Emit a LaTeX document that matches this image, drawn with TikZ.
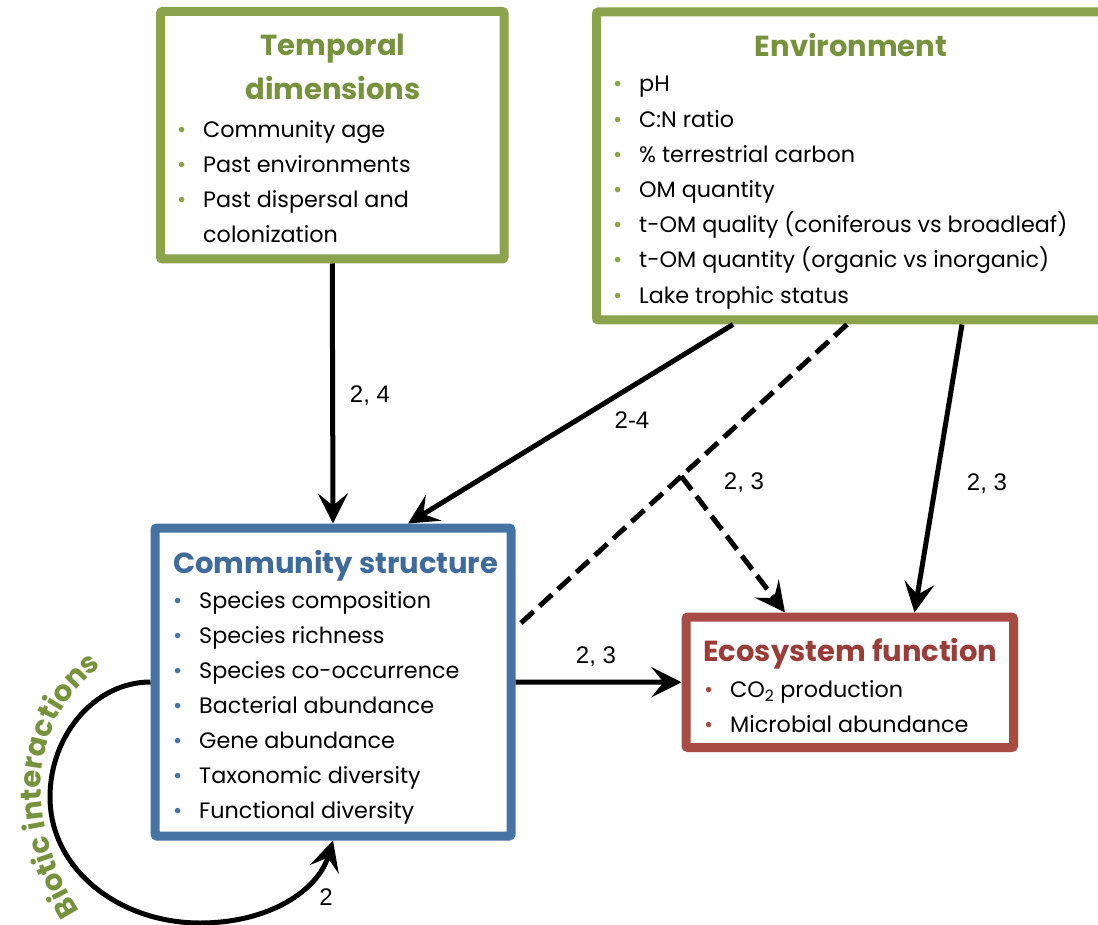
\documentclass[tikz,border=0pt]{standalone}
\usepackage{fontspec}
\setmainfont{Poppins}
\newfontfamily\labelfont{Liberation Sans}
\usetikzlibrary{arrows.meta,decorations.text}

\definecolor{envgreen}{HTML}{8AA34C}
\definecolor{envgreendark}{HTML}{76923C}
\definecolor{commblue}{HTML}{4672A4}
\definecolor{commbluedark}{HTML}{3F6A9C}
\definecolor{ecored}{HTML}{A84B45}
\definecolor{ecoreddark}{HTML}{9A3D38}

\newcommand{\bulletline}[2]{\makebox[26pt][l]{\textcolor{#1}{\textbullet}}#2}

\tikzset{
  box/.style={draw, line width=9pt, rounded corners=2pt, fill=white, inner sep=0pt},
  title/.style={inner sep=0pt, font=\fontsize{29}{34}\selectfont\bfseries},
  item/.style={anchor=base west, inner sep=0pt, font=\fontsize{22.3}{26}\selectfont},
  lbl/.style={inner sep=0pt, font=\fontsize{24}{28}\selectfont\labelfont},
  arr/.style={line width=5pt, -{Stealth[length=30pt,width=30pt,inset=12pt]}},
  dashedline/.style={line width=5pt, dash pattern=on 17pt off 8pt},
}

\begin{document}
\begin{tikzpicture}[x=1pt,y=-1pt]
    \useasboundingbox (0,0) rectangle (1098,925);
    \clip (0,0) rectangle (1098,925);

    % boxes
    \node[box, draw=envgreen, minimum width=343.5pt, minimum height=247.5pt] (temporal) at (332.25,135.25) {};
    \node[box, draw=envgreen, minimum width=520pt, minimum height=308pt] (env) at (856.5,166) {};
    \node[box, draw=commblue, minimum width=356pt, minimum height=308pt] (community) at (333,682) {};
    \node[box, draw=ecored, minimum width=327.5pt, minimum height=130.5pt] (ecosys) at (849.75,682.25) {};

    % temporal dimensions
    \node[title, anchor=base, text=envgreendark] (temporaltitle1) at (333,56) {Temporal};
    \node[title, anchor=base, text=envgreendark] (temporaltitle2) at (333,100) {dimensions};
    \node[item] (temporal-1) at (177,138) {\bulletline{envgreen}{Community age}};
    \node[item] (temporal-2) at (177,173) {\bulletline{envgreen}{Past environments}};
    \node[item] (temporal-3) at (177,208) {\bulletline{envgreen}{Past dispersal and}};
    \node[item] (temporal-4) at (203,243) {colonization};

    % environment
    \node[title, anchor=base, text=envgreendark] (envtitle) at (851,57) {Environment};
    \foreach \txt [count=\i] in {pH, C:N ratio, \% terrestrial carbon, OM quantity,
        t-OM quality (coniferous vs broadleaf), t-OM quantity (organic vs inorganic),
        Lake trophic status}
        \node[item] (env-\i) at (613,{92+35.2*(\i-1)}) {\bulletline{envgreen}{\txt}};

    % community structure
    \node[title, anchor=base west, text=commbluedark] (commtitle) at (173,573) {Community structure};
    \foreach \txt [count=\i] in {Species composition, Species richness, Species co-occurrence,
        Bacterial abundance, Gene abundance, Taxonomic diversity, Functional diversity}
        \node[item] (comm-\i) at (173,{608+35*(\i-1)}) {\bulletline{commblue}{\txt}};

    % ecosystem function
    \node[title, anchor=base west, text=ecoreddark] (ecotitle) at (703,661) {Ecosystem function};
    \node[item] (eco-1) at (704,697) {\bulletline{ecored}{CO\textsubscript{2} production}};
    \node[item] (eco-2) at (704,732) {\bulletline{ecored}{Microbial abundance}};

    % connectors
    \draw[arr] (temporal.south) -- (community.north);
    \draw[arr] ([xshift=141pt]env.south west) -- ([xshift=75pt]community.north);
    \draw[dashedline] ([xshift=255pt]env.south west) -- coordinate[pos=0.5] (fork) ([yshift=54pt]community.east);
    \draw[dashedline, arr] (fork) -- ([xshift=103.5pt]ecosys.north west);
    \draw[arr] ([xshift=370pt]env.south west) -- ([xshift=233pt]ecosys.north west);
    \draw[arr] (community.east) -- (ecosys.west);
    \draw[arr] (community.west) .. controls (95,682) and (50,735) .. (50,797)
        .. controls (50,870) and (120,923) .. (200,923)
        .. controls (270,923) and (318,890) .. (community.south);

    \path[decorate, decoration={text along path, text align=center,
        text={|\fontsize{29}{34}\selectfont\bfseries\color{envgreendark}|Biotic interactions}}]
        (85,920) .. controls (25,830) and (20,720) .. (110,660);

    % labels
    \node[lbl] (lbl24) at (370,396) {2, 4};
    \node[lbl] (lbl2to4) at (632,420) {2-4};
    \node[lbl] (lbldash) at (744,483) {2, 3};
    \node[lbl] (lblright) at (987,484) {2, 3};
    \node[lbl] (lblmid) at (596,657) {2, 3};
    \node[lbl] (lblloop) at (326,897) {2};
\end{tikzpicture}
\end{document}
